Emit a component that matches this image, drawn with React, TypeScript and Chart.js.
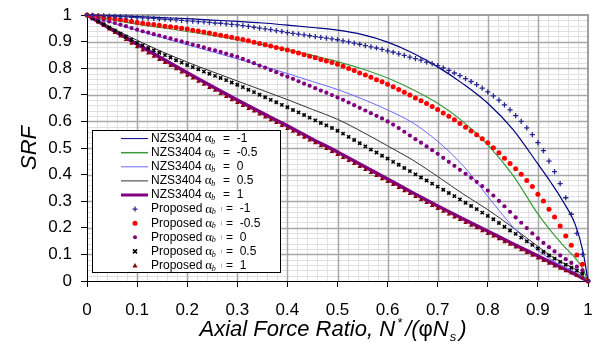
import React, { useEffect, useRef } from 'react';
import { Chart, registerables } from 'chart.js';

Chart.register(...registerables);

// ---------- data ----------
const LINE_X = [0, 0.05, 0.1, 0.15, 0.2, 0.25, 0.3, 0.35, 0.4, 0.45, 0.5, 0.55, 0.6, 0.65, 0.7, 0.75, 0.8, 0.85, 0.9, 0.925, 0.95, 0.975, 0.99, 1];

const NZS_M1 = [1.000, 0.998, 0.994, 0.990, 0.986, 0.981, 0.976, 0.970, 0.962, 0.953, 0.943, 0.926, 0.898, 0.857, 0.805, 0.742, 0.668, 0.570, 0.440, 0.373, 0.300, 0.210, 0.110, 0.000];
const NZS_M05 = [1.000, 0.982, 0.966, 0.952, 0.938, 0.923, 0.907, 0.889, 0.870, 0.848, 0.825, 0.797, 0.763, 0.720, 0.668, 0.600, 0.512, 0.398, 0.252, 0.190, 0.135, 0.085, 0.045, 0.000];
const NZS_0 = [1.000, 0.970, 0.942, 0.915, 0.888, 0.862, 0.835, 0.808, 0.780, 0.750, 0.720, 0.684, 0.643, 0.595, 0.525, 0.435, 0.318, 0.204, 0.116, 0.082, 0.056, 0.033, 0.015, 0.000];
const NZS_05 = [1.000, 0.951, 0.905, 0.862, 0.823, 0.787, 0.752, 0.717, 0.682, 0.645, 0.608, 0.560, 0.508, 0.455, 0.393, 0.328, 0.268, 0.201, 0.130, 0.096, 0.068, 0.044, 0.020, 0.000];
const NZS_1 = [1.000, 0.945, 0.890, 0.836, 0.783, 0.731, 0.680, 0.631, 0.583, 0.533, 0.485, 0.434, 0.383, 0.332, 0.282, 0.234, 0.187, 0.140, 0.094, 0.071, 0.048, 0.025, 0.010, 0.000];

const PROP_X = [
  0, 0.0111, 0.0222, 0.0333, 0.0444, 0.0556, 0.0667, 0.0778, 0.0889, 0.1,
  0.1111, 0.1222, 0.1333, 0.1444, 0.1556, 0.1667, 0.1778, 0.1889, 0.2,
  0.2111, 0.2222, 0.2333, 0.2444, 0.2556, 0.2667, 0.2778, 0.2889, 0.3,
  0.3111, 0.3222, 0.3333, 0.3444, 0.3556, 0.3667, 0.3778, 0.3889, 0.4,
  0.4111, 0.4222, 0.4333, 0.4444, 0.4556, 0.4667, 0.4778, 0.4889, 0.5,
  0.5111, 0.5222, 0.5333, 0.5444, 0.5556, 0.5667, 0.5778, 0.5889, 0.6,
  0.6111, 0.6222, 0.6333, 0.6444, 0.6556, 0.6667, 0.6778, 0.6889, 0.7,
  0.7111, 0.7222, 0.7333, 0.7444, 0.7556, 0.7667, 0.7778, 0.7889, 0.8,
  0.8111, 0.8222, 0.8333, 0.8444, 0.8556, 0.8667, 0.8778, 0.8889, 0.9,
  0.9111, 0.9222, 0.9333, 0.9444, 0.9556, 0.9667, 0.9778, 0.9889, 1,
];

const PROP_M1 = [
  1.000, 0.999, 0.998, 0.997, 0.996, 0.995, 0.994, 0.993, 0.991, 0.990,
  0.989, 0.988, 0.987, 0.985, 0.984, 0.983, 0.982, 0.980, 0.978,
  0.977, 0.975, 0.974, 0.972, 0.970, 0.969, 0.967, 0.965, 0.963,
  0.960, 0.957, 0.954, 0.951, 0.948, 0.945, 0.941, 0.938, 0.934,
  0.931, 0.928, 0.925, 0.922, 0.919, 0.916, 0.913, 0.910, 0.907,
  0.903, 0.899, 0.894, 0.890, 0.885, 0.880, 0.876, 0.871, 0.865,
  0.860, 0.854, 0.848, 0.842, 0.836, 0.830, 0.823, 0.817, 0.810,
  0.801, 0.792, 0.782, 0.772, 0.761, 0.750, 0.738, 0.725, 0.711,
  0.696, 0.680, 0.662, 0.643, 0.622, 0.600, 0.576, 0.550, 0.520,
  0.490, 0.451, 0.411, 0.366, 0.313, 0.251, 0.179, 0.100, 0.000,
];
const PROP_M05 = [
  1.000, 0.998, 0.995, 0.992, 0.989, 0.986, 0.983, 0.980, 0.976, 0.972,
  0.969, 0.966, 0.964, 0.961, 0.958, 0.956, 0.953, 0.950, 0.947,
  0.943, 0.940, 0.936, 0.932, 0.928, 0.924, 0.920, 0.916, 0.912,
  0.908, 0.903, 0.898, 0.893, 0.888, 0.883, 0.878, 0.873, 0.868,
  0.863, 0.857, 0.851, 0.845, 0.839, 0.833, 0.827, 0.821, 0.815,
  0.807, 0.799, 0.791, 0.782, 0.774, 0.766, 0.757, 0.749, 0.740,
  0.730, 0.720, 0.710, 0.699, 0.688, 0.678, 0.667, 0.656, 0.645,
  0.632, 0.619, 0.606, 0.592, 0.578, 0.564, 0.550, 0.535, 0.520,
  0.501, 0.482, 0.461, 0.442, 0.422, 0.401, 0.378, 0.355, 0.326,
  0.301, 0.270, 0.241, 0.207, 0.169, 0.134, 0.098, 0.063, 0.000,
];
const PROP_0 = [
  1.000, 0.994, 0.988, 0.982, 0.976, 0.970, 0.964, 0.958, 0.951, 0.945,
  0.939, 0.934, 0.928, 0.923, 0.917, 0.912, 0.906, 0.901, 0.895,
  0.889, 0.884, 0.878, 0.872, 0.867, 0.861, 0.855, 0.849, 0.843,
  0.835, 0.827, 0.819, 0.810, 0.802, 0.793, 0.785, 0.776, 0.768,
  0.760, 0.751, 0.742, 0.734, 0.725, 0.716, 0.708, 0.699, 0.690,
  0.681, 0.671, 0.661, 0.651, 0.641, 0.631, 0.621, 0.611, 0.600,
  0.588, 0.575, 0.561, 0.547, 0.533, 0.520, 0.506, 0.492, 0.478,
  0.463, 0.448, 0.433, 0.418, 0.403, 0.388, 0.373, 0.357, 0.340,
  0.321, 0.301, 0.281, 0.260, 0.239, 0.219, 0.199, 0.179, 0.160,
  0.143, 0.127, 0.111, 0.096, 0.082, 0.068, 0.054, 0.040, 0.000,
];
const PROP_05 = [
  1.000, 0.988, 0.977, 0.965, 0.953, 0.942, 0.930, 0.918, 0.907, 0.895,
  0.886, 0.876, 0.867, 0.858, 0.849, 0.840, 0.830, 0.821, 0.812,
  0.804, 0.796, 0.787, 0.779, 0.771, 0.763, 0.755, 0.746, 0.738,
  0.729, 0.719, 0.710, 0.700, 0.691, 0.681, 0.672, 0.662, 0.653,
  0.643, 0.634, 0.624, 0.614, 0.604, 0.594, 0.585, 0.575, 0.565,
  0.554, 0.542, 0.530, 0.518, 0.506, 0.494, 0.483, 0.471, 0.460,
  0.448, 0.437, 0.425, 0.413, 0.401, 0.389, 0.378, 0.366, 0.355,
  0.343, 0.331, 0.319, 0.307, 0.294, 0.282, 0.270, 0.257, 0.245,
  0.232, 0.218, 0.204, 0.190, 0.177, 0.163, 0.149, 0.136, 0.122,
  0.109, 0.096, 0.084, 0.072, 0.061, 0.050, 0.039, 0.028, 0.000,
];
const PROP_1 = [
  1.000, 0.986, 0.973, 0.960, 0.947, 0.933, 0.920, 0.907, 0.893, 0.880,
  0.868, 0.856, 0.844, 0.832, 0.821, 0.809, 0.797, 0.785, 0.773,
  0.762, 0.750, 0.739, 0.727, 0.716, 0.704, 0.693, 0.681, 0.670,
  0.659, 0.648, 0.638, 0.627, 0.616, 0.605, 0.595, 0.584, 0.573,
  0.562, 0.551, 0.540, 0.529, 0.519, 0.508, 0.497, 0.486, 0.475,
  0.464, 0.452, 0.441, 0.430, 0.418, 0.407, 0.396, 0.384, 0.373,
  0.362, 0.351, 0.339, 0.328, 0.317, 0.306, 0.294, 0.283, 0.272,
  0.261, 0.251, 0.240, 0.230, 0.219, 0.209, 0.199, 0.188, 0.178,
  0.168, 0.158, 0.147, 0.137, 0.127, 0.117, 0.106, 0.096, 0.086,
  0.076, 0.066, 0.056, 0.047, 0.038, 0.029, 0.020, 0.011, 0.000,
];

const LEGEND_NAMES = ['NZS3404', 'NZS3404', 'NZS3404', 'NZS3404', 'NZS3404', 'Proposed', 'Proposed', 'Proposed', 'Proposed', 'Proposed'];
const LEGEND_VALUES = ['-1', '-0.5', '0', '0.5', '1', '-1', '-0.5', '0', '0.5', '1'];
const Y_TITLE = 'SRF';
const X_TITLE_MAIN = 'Axial Force Ratio, N';

// ---------- styles ----------
const FONT = '"Liberation Sans", Arial, Helvetica, sans-serif';
const C_NAVY = '#000080';
const C_GREEN = '#3a9a3a';
const C_LBLUE = '#6a6aff';
const C_BLACK = '#333333';
const C_PURPLE = '#800080';
const C_PLUS = '#262690';
const C_RED = '#ff0000';
const C_PDOT = '#800080';
const C_X = '#000000';
const C_TRI = '#8b0000';

const LEGEND_STYLES = [
  { kind: 'line', color: C_NAVY, width: 1 },
  { kind: 'line', color: C_GREEN, width: 1.5 },
  { kind: 'line', color: C_LBLUE, width: 1 },
  { kind: 'line', color: C_BLACK, width: 1 },
  { kind: 'line', color: C_PURPLE, width: 3 },
  { kind: 'cross', color: C_PLUS },
  { kind: 'circle', color: C_RED, r: 2.5 },
  { kind: 'circle', color: C_PDOT, r: 2 },
  { kind: 'crossRot', color: C_X },
  { kind: 'triangle', color: C_TRI },
];

function drawMarker(ctx: CanvasRenderingContext2D, kind: string, x: number, y: number, color: string, r = 2.5) {
  ctx.save();
  ctx.strokeStyle = color;
  ctx.fillStyle = color;
  if (kind === 'cross') {
    ctx.lineWidth = 1.3;
    ctx.beginPath();
    ctx.moveTo(x - 2.5, y); ctx.lineTo(x + 2.5, y);
    ctx.moveTo(x, y - 2.5); ctx.lineTo(x, y + 2.5);
    ctx.stroke();
  } else if (kind === 'circle') {
    ctx.beginPath();
    ctx.arc(x, y, r, 0, Math.PI * 2);
    ctx.fill();
  } else if (kind === 'crossRot') {
    ctx.lineWidth = 1.6;
    ctx.beginPath();
    ctx.moveTo(x - 2, y - 2); ctx.lineTo(x + 2, y + 2);
    ctx.moveTo(x + 2, y - 2); ctx.lineTo(x - 2, y + 2);
    ctx.stroke();
  } else if (kind === 'triangle') {
    ctx.beginPath();
    ctx.moveTo(x, y - 2.6); ctx.lineTo(x + 2.6, y + 2); ctx.lineTo(x - 2.6, y + 2);
    ctx.closePath();
    ctx.fill();
  }
  ctx.restore();
}

const gridPlugin = {
  id: 'excelGrid',
  beforeDraw(chart: any) {
    const { ctx, chartArea: a, scales } = chart;
    const xs = scales.x, ys = scales.y;
    ctx.save();
    ctx.fillStyle = '#ffffff';
    ctx.fillRect(0, 0, chart.width, chart.height);
    ctx.lineWidth = 1;
    ctx.strokeStyle = '#e0e0e0';
    ctx.beginPath();
    for (let k = 1; k < 50; k++) {
      if (k % 5 === 0) continue;
      const px = Math.round(xs.getPixelForValue(k / 50)) + 0.5;
      ctx.moveTo(px, a.top); ctx.lineTo(px, a.bottom);
      const py = Math.round(ys.getPixelForValue(k / 50)) + 0.5;
      ctx.moveTo(a.left, py); ctx.lineTo(a.right, py);
    }
    ctx.stroke();
    ctx.strokeStyle = '#a8a8a8';
    ctx.lineWidth = 1.5;
    ctx.beginPath();
    for (let k = 1; k < 10; k++) {
      const px = Math.round(xs.getPixelForValue(k / 10)) + 0.5;
      ctx.moveTo(px, a.top); ctx.lineTo(px, a.bottom);
      const py = Math.round(ys.getPixelForValue(k / 10)) + 0.5;
      ctx.moveTo(a.left, py); ctx.lineTo(a.right, py);
    }
    ctx.stroke();
    ctx.strokeStyle = '#a0a0a0';
    ctx.lineWidth = 2;
    ctx.beginPath();
    ctx.moveTo(a.left, a.top); ctx.lineTo(a.right, a.top); ctx.lineTo(a.right, a.bottom);
    ctx.stroke();
    ctx.restore();
  },
};

const overlayPlugin = {
  id: 'overlay',
  afterDraw(chart: any) {
    const ctx: CanvasRenderingContext2D = chart.ctx;
    const a = chart.chartArea;
    ctx.save();
    const lx = 92, ly = 130, lw = 189, lh = 143;
    ctx.fillStyle = '#ffffff';
    ctx.fillRect(lx, ly, lw, lh);
    ctx.strokeStyle = '#000000';
    ctx.lineWidth = 1;
    ctx.strokeRect(lx + 0.5, ly + 0.5, lw - 1, lh - 1);
    for (let k = 0; k < LEGEND_NAMES.length; k++) {
      const y = 138.6 + k * 14.1;
      const st: any = LEGEND_STYLES[k];
      if (st.kind === 'line') {
        ctx.strokeStyle = st.color;
        ctx.lineWidth = st.width;
        ctx.beginPath();
        ctx.moveTo(121, y); ctx.lineTo(148, y);
        ctx.stroke();
      } else {
        drawMarker(ctx, st.kind, 135, y, st.color, st.r || 2.5);
      }
      ctx.fillStyle = '#000000';
      ctx.textBaseline = 'middle';
      ctx.textAlign = 'left';
      ctx.font = '12px ' + FONT;
      ctx.fillText(LEGEND_NAMES[k], 151, y);
      const nameW = ctx.measureText(LEGEND_NAMES[k]).width;
      const ax = 151 + nameW + 3;
      ctx.font = '13px "Liberation Serif", "DejaVu Serif", serif';
      ctx.fillText('\u03B1', ax, y);
      ctx.font = 'italic 8px "Liberation Serif", serif';
      ctx.fillText('b', ax + 6.5, y + 3);
      ctx.font = '12px ' + FONT;
      const eqX = k < 5 ? 223 : 226;
      if (k >= 5) {
        ctx.fillStyle = '#b0b0b0';
        ctx.fillRect(221, y - 2, 1, 4);
        ctx.fillStyle = '#000000';
      }
      ctx.fillText('=  ' + LEGEND_VALUES[k], eqX, y);
    }
    ctx.save();
    ctx.translate(30, (a.top + a.bottom) / 2);
    ctx.rotate(-Math.PI / 2);
    ctx.font = 'italic 22px ' + FONT;
    ctx.textAlign = 'center';
    ctx.textBaseline = 'middle';
    ctx.fillStyle = '#000000';
    ctx.fillText(Y_TITLE, 0, 0);
    ctx.restore();
    const big = 'italic 22px ' + FONT;
    const small = 'italic 13px ' + FONT;
    const segs = [
      { t: X_TITLE_MAIN, f: big, dy: 0, gap: 2 },
      { t: '*', f: small, dy: -9, gap: 3 },
      { t: '/(', f: big, dy: 0, gap: 0 },
      { t: '\u03C6', f: '22px ' + FONT, dy: 0, gap: 0 },
      { t: 'N', f: big, dy: 0, gap: 1 },
      { t: 's', f: small, dy: 5, gap: 3 },
      { t: ')', f: big, dy: 0, gap: 0 },
    ];
    let total = 0;
    const widths: number[] = [];
    for (const s of segs) {
      ctx.font = s.f;
      const w = ctx.measureText(s.t).width;
      widths.push(w);
      total += w + s.gap;
    }
    let cx = 333 - total / 2;
    const base = 336;
    ctx.textAlign = 'left';
    ctx.textBaseline = 'alphabetic';
    ctx.fillStyle = '#000000';
    segs.forEach((s, i) => {
      ctx.font = s.f;
      ctx.fillText(s.t, cx, base + s.dy);
      cx += widths[i] + s.gap;
    });
    ctx.restore();
  },
};

function fmt(v: any) {
  const r = Math.round(Number(v) * 10) / 10;
  if (r === 0) return '0';
  if (r === 1) return '1';
  return r.toFixed(1);
}

export default function App() {
  const ref = useRef<HTMLCanvasElement | null>(null);
  useEffect(() => {
    document.body.style.margin = '0';
    const canvas = ref.current;
    if (!canvas) return;
    const lineDs = (label: string, ys: number[], color: string, width: number) => ({
      type: 'line',
      label,
      data: LINE_X.map((x, i) => ({ x, y: ys[i] })),
      borderColor: color,
      backgroundColor: color,
      borderWidth: width,
      pointRadius: 0,
      cubicInterpolationMode: 'monotone',
      fill: false,
      clip: false,
      order: 2,
    });
    const markDs = (label: string, ys: number[], color: string, style: string, radius: number, bw: number) => ({
      type: 'line',
      label,
      data: PROP_X.map((x, i) => ({ x, y: ys[i] })),
      showLine: false,
      pointStyle: style,
      pointRadius: radius,
      pointBorderColor: color,
      pointBackgroundColor: color,
      pointBorderWidth: bw,
      clip: false,
      order: 1,
    });
    const chart = new Chart(canvas, {
      type: 'line',
      data: {
        datasets: [
          lineDs('NZS3404 ab = -1', NZS_M1, C_NAVY, 1.2),
          lineDs('NZS3404 ab = -0.5', NZS_M05, C_GREEN, 1.2),
          lineDs('NZS3404 ab = 0', NZS_0, C_LBLUE, 1),
          lineDs('NZS3404 ab = 0.5', NZS_05, C_BLACK, 1),
          lineDs('NZS3404 ab = 1', NZS_1, C_PURPLE, 3.5),
          markDs('Proposed ab = -1', PROP_M1, C_PLUS, 'cross', 2.6, 1.3),
          markDs('Proposed ab = -0.5', PROP_M05, C_RED, 'circle', 2.5, 0),
          markDs('Proposed ab = 0', PROP_0, C_PDOT, 'circle', 2.1, 0),
          markDs('Proposed ab = 0.5', PROP_05, C_X, 'crossRot', 2.3, 1.6),
          markDs('Proposed ab = 1', PROP_1, C_TRI, 'triangle', 2.6, 0),
        ] as any,
      },
      options: {
        responsive: false,
        animation: false,
        devicePixelRatio: 1,
        events: [],
        layout: { padding: { left: 0, right: 10, top: 15, bottom: 0 } },
        plugins: {
          legend: { display: false },
          tooltip: { enabled: false },
          title: { display: false },
        },
        scales: {
          x: {
            type: 'linear',
            min: 0,
            max: 1,
            afterFit: (s: any) => { s.height = 61; s.paddingLeft = 0; s.paddingRight = 0; },
            ticks: {
              stepSize: 0.1,
              color: '#000000',
              font: { family: FONT, size: 17 },
              padding: 13,
              maxRotation: 0,
              autoSkip: false,
              callback: (v: any) => fmt(v),
            },
            grid: { drawOnChartArea: false, drawTicks: true, tickLength: 6, tickColor: '#000000', color: '#000000' },
            border: { display: true, color: '#000000', width: 1 },
          },
          y: {
            type: 'linear',
            min: 0,
            max: 1,
            afterFit: (s: any) => { s.width = 87; s.paddingTop = 0; s.paddingBottom = 0; },
            ticks: {
              stepSize: 0.1,
              color: '#000000',
              font: { family: FONT, size: 17 },
              padding: 9,
              autoSkip: false,
              callback: (v: any) => fmt(v),
            },
            grid: { drawOnChartArea: false, drawTicks: true, tickLength: 6, tickColor: '#000000', color: '#000000' },
            border: { display: true, color: '#000000', width: 1 },
          },
        },
      } as any,
      plugins: [gridPlugin, overlayPlugin],
    });
    return () => chart.destroy();
  }, []);
  return (
    <div style={{ position: 'absolute', left: 0, top: 0, width: 598, height: 342 }}>
      <canvas ref={ref} width={598} height={342} style={{ display: 'block', width: 598, height: 342 }} />
    </div>
  );
}
